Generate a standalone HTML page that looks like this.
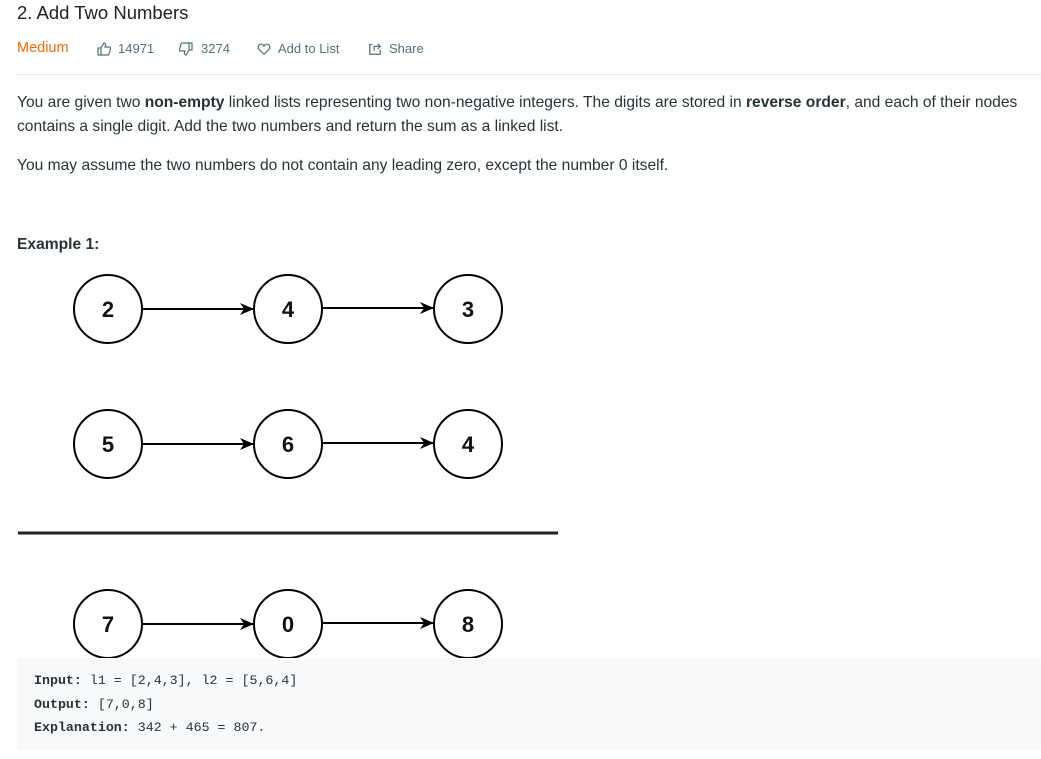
<!DOCTYPE html>
<html><head><meta charset="utf-8"><style>
body{margin:0;width:1041px;height:759px;background:#fff;font-family:"Liberation Sans","DejaVu Sans",sans-serif;color:#263238;position:relative;overflow:hidden}
.a{position:absolute;white-space:nowrap}
.t{left:17px;top:2px;font-size:18.5px;color:#212121}
.m{top:41px;font-size:13px;color:#546e7a}
.p{left:17px;font-size:15.6px;color:#263238}
pre{position:absolute;left:17px;top:658px;width:1024px;height:92px;margin:0;background:#f7f9fa;font-family:"Liberation Mono","DejaVu Sans Mono",monospace;font-size:13.3px;color:#263238;line-height:23.5px;padding:11px 0 0 17px;box-sizing:border-box}
</style></head><body>
<div class="a t">2. Add Two Numbers</div>
<div class="a m" style="left:17px;color:#ef6c00;font-size:14.5px;top:40px">Medium</div>
<svg class="a" style="left:96px;top:41px" width="16" height="16" viewBox="0 0 16 16" fill="none" stroke="#546e7a" stroke-width="1.2"><path d="M2 7h3v7H2zM5 7l3-5c1 0 2 1 1.5 2.5L9 6h4.5c.8 0 1.2.8 1 1.5l-1.5 5.5c-.2.6-.6 1-1.2 1H5"/></svg>
<div class="a m" style="left:118px">14971</div>
<svg class="a" style="left:178px;top:41px" width="16" height="16" viewBox="0 0 16 16" fill="none" stroke="#546e7a" stroke-width="1.2"><g transform="rotate(180 8 8)"><path d="M2 7h3v7H2zM5 7l3-5c1 0 2 1 1.5 2.5L9 6h4.5c.8 0 1.2.8 1 1.5l-1.5 5.5c-.2.6-.6 1-1.2 1H5"/></g></svg>
<div class="a m" style="left:201px">3274</div>
<svg class="a" style="left:257px;top:42px" width="14" height="14" viewBox="0 0 16 16" fill="none" stroke="#546e7a" stroke-width="1.4"><path d="M8 14L2.5 8.5C.5 6.5 1.5 2.5 4.5 2.5 6 2.5 7.2 3.5 8 4.8 8.8 3.5 10 2.5 11.5 2.5c3 0 4 4 2 6z"/></svg>
<div class="a m" style="left:278px">Add to List</div>
<svg class="a" style="left:368px;top:42px" width="14" height="14" viewBox="0 0 16 16" fill="none" stroke="#546e7a" stroke-width="1.4"><path d="M5 3H2v11h12V9M7 10V5h7M11 2l3 3-3 3"/></svg>
<div class="a m" style="left:389px">Share</div>
<div class="a" style="left:17px;top:74px;width:1024px;height:1px;background:#e8e8e8"></div>
<div class="a p" style="top:94px">You are given two <b>non-empty</b> linked lists representing two non-negative integers. The digits are stored in <b>reverse order</b>, and each of their nodes</div>
<div class="a p" style="top:118px">contains a single digit. Add the two numbers and return the sum as a linked list.</div>
<div class="a p" style="top:157px">You may assume the two numbers do not contain any leading zero, except the number 0 itself.</div>
<div class="a p" style="top:236px;font-weight:bold">Example 1:</div>
<svg class="a" style="left:0;top:0" width="1041" height="759">
<defs><marker id="ar" markerWidth="14" markerHeight="12" refX="13" refY="6" orient="auto" markerUnits="userSpaceOnUse"><path d="M0 0L14 6L0 12L4 6z" fill="#000"/></marker></defs>
<g stroke="#000" stroke-width="2" fill="#fff">
<circle cx="108" cy="309" r="34"/><circle cx="288" cy="309" r="34"/><circle cx="468" cy="309" r="34"/>
<circle cx="108" cy="444" r="34"/><circle cx="288" cy="444" r="34"/><circle cx="468" cy="444" r="34"/>
<circle cx="108" cy="624" r="34"/><circle cx="288" cy="624" r="34"/><circle cx="468" cy="624" r="34"/>
</g>
<g stroke="#000" stroke-width="2" marker-end="url(#ar)">
<line x1="142" y1="309" x2="253" y2="309"/><line x1="322" y1="308" x2="433" y2="308"/>
<line x1="142" y1="444" x2="253" y2="444"/><line x1="322" y1="443" x2="433" y2="443"/>
<line x1="142" y1="624" x2="253" y2="624"/><line x1="322" y1="623" x2="433" y2="623"/>
</g>
<line x1="18" y1="533" x2="558" y2="533" stroke="#222" stroke-width="3"/>
<g font-family="Liberation Sans,sans-serif" font-weight="bold" font-size="22" text-anchor="middle" fill="#111">
<text x="108" y="317">2</text><text x="288" y="317">4</text><text x="468" y="317">3</text>
<text x="108" y="452">5</text><text x="288" y="452">6</text><text x="468" y="452">4</text>
<text x="108" y="632">7</text><text x="288" y="632">0</text><text x="468" y="632">8</text>
</g>
</svg>
<pre><b>Input:</b> l1 = [2,4,3], l2 = [5,6,4]
<b>Output:</b> [7,0,8]
<b>Explanation:</b> 342 + 465 = 807.</pre>
</body></html>
